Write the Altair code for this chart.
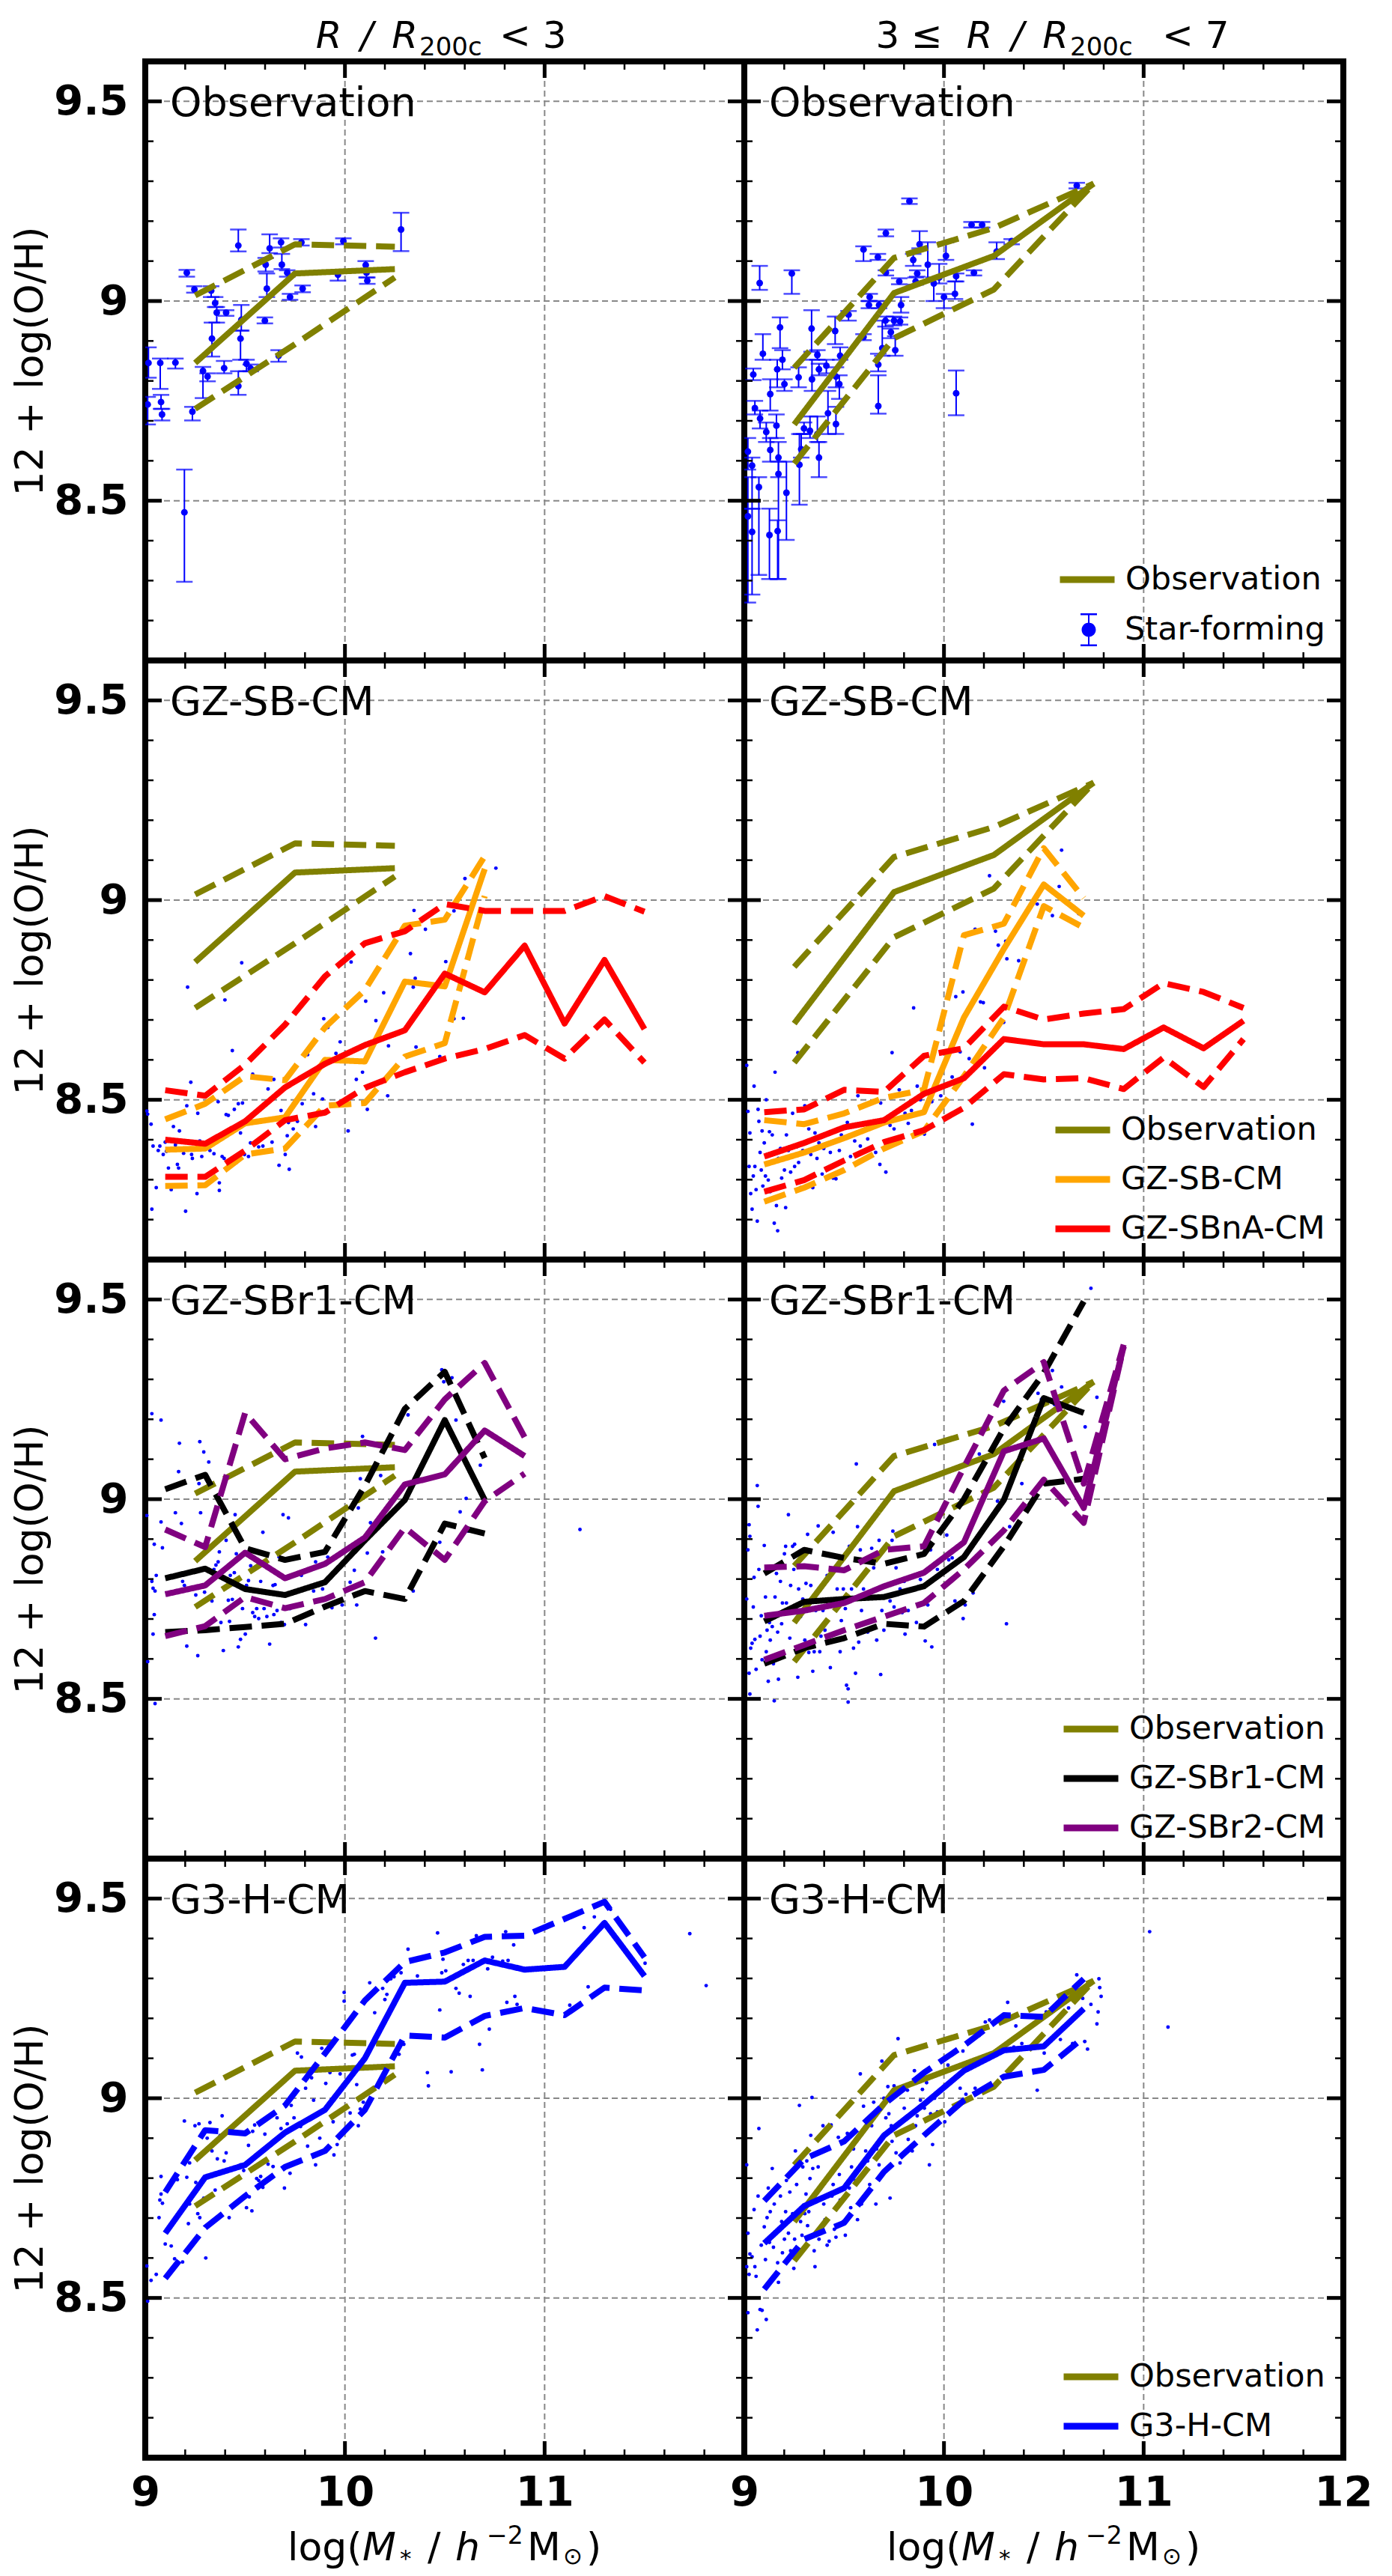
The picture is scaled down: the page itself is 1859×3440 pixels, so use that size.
import altair as alt
import pandas as pd

FONT = "DejaVu Sans"
PW, PH = 800, 800
X_DOMAIN = [9, 12]
Y_DOMAIN = [8.1, 9.6]

OLIVE, ORANGE, RED, BLACK, PURPLE, BLUE = "#808000", "#ffa500", "#ff0000", "#000000", "#800080", "#0000ff"
GRID = "#888888"

# ticks / labels
X_MAJOR = [10, 11]
X_MINOR = [9.2, 9.4, 9.6, 9.8, 10.2, 10.4, 10.6, 10.8, 11.2, 11.4, 11.6, 11.8]
Y_MAJOR = [8.5, 9.0, 9.5]
Y_MINOR = [8.2, 8.3, 8.4, 8.6, 8.7, 8.8, 8.9, 9.1, 9.2, 9.3, 9.4]
X_GRID = [10, 11]
Y_GRID = [8.5, 9.0, 9.5]
X_LABELS_LEFT = [9, 10, 11]
X_LABELS_RIGHT = [9, 10, 11, 12]
Y_LABELS = [8.5, 9, 9.5]

PANEL_LABELS = ["Observation", "GZ-SB-CM", "GZ-SBr1-CM", "G3-H-CM"]

BINS = [9.1, 9.3, 9.5, 9.7, 9.9, 10.1, 10.3, 10.5, 10.7, 10.9, 11.1, 11.3, 11.5]

# observation relation (median, upper, lower)
OBS_L_X = [9.25, 9.75, 10.25]
OBS_L_MED = [8.845, 9.069, 9.080]
OBS_L_UP = [9.014, 9.142, 9.136]
OBS_L_LO = [8.730, 8.892, 9.059]
OBS_R_X = [9.25, 9.75, 10.25, 10.75]
OBS_R_MED = [8.691, 9.020, 9.113, 9.294]
OBS_R_UP = [8.833, 9.108, 9.183, 9.294]
OBS_R_LO = [8.593, 8.907, 9.029, 9.294]

# star-forming observed galaxies (x, y, low, high)
SF_L = [
    (9.016, 8.845, 8.808, 8.884), (9.012, 8.741, 8.691, 8.760), (9.075, 8.845, 8.780, 8.856),
    (9.079, 8.747, 8.730, 8.765), (9.084, 8.716, 8.701, 8.730), (9.151, 8.846, 8.831, 8.856),
    (9.208, 9.071, 9.061, 9.078), (9.196, 8.471, 8.297, 8.578), (9.236, 8.723, 8.701, 8.735),
    (9.246, 9.029, 9.021, 9.037), (9.289, 8.825, 8.757, 8.835), (9.312, 8.811, 8.799, 8.819),
    (9.330, 9.026, 9.010, 9.037), (9.334, 8.906, 8.861, 8.946), (9.350, 8.995, 8.985, 9.010),
    (9.358, 8.971, 8.946, 8.985), (9.395, 8.832, 8.819, 8.850), (9.405, 8.971, 8.963, 8.977),
    (9.466, 9.139, 9.124, 9.179), (9.466, 8.787, 8.765, 8.824), (9.481, 8.953, 8.926, 8.990),
    (9.477, 8.906, 8.853, 8.926), (9.507, 8.843, 8.824, 8.853), (9.528, 8.831, 8.824, 8.841),
    (9.599, 8.951, 8.944, 8.959), (9.603, 9.091, 9.074, 9.108), (9.609, 9.031, 9.010, 9.069),
    (9.623, 9.132, 9.120, 9.167), (9.668, 8.863, 8.848, 8.877), (9.680, 9.147, 9.134, 9.157),
    (9.684, 9.091, 9.080, 9.118), (9.711, 9.071, 9.061, 9.077), (9.725, 9.010, 9.003, 9.018),
    (9.782, 9.147, 9.139, 9.155), (9.788, 9.031, 9.022, 9.039), (9.965, 9.066, 9.051, 9.074),
    (9.992, 9.150, 9.142, 9.157), (10.104, 9.090, 9.080, 9.100), (10.108, 9.071, 9.059, 9.080),
    (10.112, 9.051, 9.043, 9.059), (10.281, 9.179, 9.125, 9.221),
]
SF_R = [
    (9.077, 9.045, 9.028, 9.088), (9.238, 9.069, 9.018, 9.077), (9.093, 8.868, 8.853, 8.917),
    (9.179, 8.934, 8.882, 8.959), (9.191, 8.853, 8.829, 8.877), (9.165, 8.829, 8.784, 8.853),
    (9.045, 8.816, 8.802, 8.831), (9.130, 8.767, 8.726, 8.804), (9.201, 8.792, 8.775, 8.804),
    (9.053, 8.732, 8.716, 8.750), (9.018, 8.623, 8.578, 8.657), (9.079, 8.706, 8.681, 8.726),
    (9.110, 8.672, 8.647, 8.696), (9.161, 8.688, 8.657, 8.716), (9.130, 8.627, 8.598, 8.657),
    (9.171, 8.608, 8.559, 8.647), (9.039, 8.588, 8.480, 8.608), (9.073, 8.534, 8.314, 8.559),
    (9.018, 8.461, 8.245, 8.559), (9.039, 8.422, 8.265, 8.480), (9.126, 8.414, 8.304, 8.480),
    (9.167, 8.424, 8.304, 8.451), (9.171, 8.567, 8.304, 8.598), (9.211, 8.520, 8.402, 8.598),
    (9.272, 8.809, 8.784, 8.834), (9.276, 8.590, 8.490, 8.667), (9.285, 8.629, 8.608, 8.667),
    (9.299, 8.681, 8.667, 8.696), (9.329, 8.675, 8.657, 8.711), (9.337, 8.931, 8.873, 8.977),
    (9.339, 8.804, 8.775, 8.853), (9.366, 8.865, 8.853, 8.877), (9.374, 8.829, 8.814, 8.843),
    (9.366, 8.667, 8.647, 8.711), (9.374, 8.608, 8.559, 8.647), (9.411, 8.838, 8.819, 8.853),
    (9.419, 8.719, 8.667, 8.775), (9.455, 8.925, 8.892, 8.961), (9.459, 8.811, 8.784, 8.834),
    (9.459, 8.692, 8.667, 8.735), (9.476, 8.792, 8.755, 8.814), (9.480, 8.863, 8.853, 8.884),
    (9.522, 8.966, 8.951, 8.975), (9.597, 9.129, 9.100, 9.137), (9.597, 8.910, 8.902, 8.917),
    (9.628, 9.010, 9.000, 9.018), (9.624, 8.990, 8.982, 9.000), (9.669, 9.110, 9.103, 9.118),
    (9.675, 8.990, 8.982, 9.000), (9.671, 8.737, 8.718, 8.814), (9.671, 8.841, 8.824, 8.868),
    (9.691, 8.882, 8.863, 8.951), (9.707, 8.951, 8.936, 8.961), (9.709, 9.071, 9.064, 9.077),
    (9.709, 9.170, 9.162, 9.179), (9.734, 8.922, 8.907, 8.931), (9.750, 8.951, 8.939, 8.961),
    (9.756, 8.877, 8.863, 8.912), (9.776, 9.049, 9.042, 9.057), (9.785, 8.990, 8.971, 9.010),
    (9.780, 8.949, 8.941, 8.959), (9.827, 9.250, 9.243, 9.257), (9.846, 9.103, 9.088, 9.118),
    (9.858, 9.049, 9.041, 9.059), (9.866, 9.069, 9.061, 9.077), (9.878, 9.142, 9.132, 9.175),
    (9.919, 9.091, 9.049, 9.147), (9.949, 9.044, 9.000, 9.059), (9.976, 9.059, 9.044, 9.093),
    (10.000, 9.010, 8.982, 9.018), (10.010, 9.113, 9.103, 9.147), (10.055, 9.018, 9.005, 9.049),
    (10.061, 9.062, 9.049, 9.069), (10.061, 8.769, 8.714, 8.826), (10.138, 9.191, 9.184, 9.198),
    (10.191, 9.191, 9.184, 9.198), (10.150, 9.071, 9.064, 9.077), (10.264, 9.124, 9.105, 9.147),
    (10.339, 9.150, 9.142, 9.155), (10.665, 9.289, 9.282, 9.296),
]

# ---- GZ-SB-CM / GZ-SBnA-CM ----
SB_L_MED = [8.375, 8.378, 8.441, 8.456, 8.600, 8.596, 8.796, 8.784, 9.078]
SB_L_UP = [8.451, 8.490, 8.559, 8.549, 8.681, 8.775, 8.936, 8.951, 9.110]
SB_L_LO = [8.284, 8.286, 8.363, 8.378, 8.485, 8.492, 8.608, 8.642, 9.010]
SBNA_L_MED = [8.400, 8.390, 8.446, 8.531, 8.590, 8.637, 8.674, 8.816, 8.769, 8.886, 8.691, 8.850, 8.677]
SBNA_L_UP = [8.524, 8.510, 8.588, 8.688, 8.809, 8.892, 8.922, 8.990, 8.973, 8.973, 8.973, 9.010, 8.971]
SBNA_L_LO = [8.307, 8.307, 8.373, 8.449, 8.468, 8.530, 8.569, 8.603, 8.627, 8.662, 8.603, 8.701, 8.593]
SB_R_MED = [8.338, 8.368, 8.404, 8.443, 8.469, 8.706, 8.878, 9.039, 8.961]
SB_R_UP = [8.449, 8.439, 8.466, 8.505, 8.525, 8.912, 8.941, 9.130, 9.005]
SB_R_LO = [8.245, 8.280, 8.324, 8.378, 8.422, 8.559, 8.706, 8.985, 8.931]
SBNA_R_MED = [8.358, 8.392, 8.431, 8.449, 8.515, 8.554, 8.652, 8.639, 8.639, 8.627, 8.681, 8.629, 8.698]
SBNA_R_UP = [8.469, 8.476, 8.525, 8.520, 8.610, 8.629, 8.733, 8.701, 8.716, 8.727, 8.792, 8.770, 8.730]
SBNA_R_LO = [8.270, 8.299, 8.348, 8.394, 8.424, 8.480, 8.564, 8.551, 8.554, 8.527, 8.606, 8.532, 8.652]

# ---- GZ-SBr1-CM / GZ-SBr2-CM ----
R1_L_MED = [8.802, 8.826, 8.775, 8.760, 8.792, 8.897, 8.998, 9.198, 8.998]
R1_L_UP = [9.025, 9.061, 8.877, 8.848, 8.868, 9.034, 9.226, 9.319, 9.103]
R1_L_LO = [8.667, 8.672, 8.680, 8.688, 8.731, 8.770, 8.750, 8.939, 8.914]
R2_L_MED = [8.762, 8.784, 8.866, 8.802, 8.838, 8.904, 9.037, 9.062, 9.172, 9.108]
R2_L_UP = [8.924, 8.880, 9.216, 9.100, 9.127, 9.142, 9.123, 9.250, 9.341, 9.155]
R2_L_LO = [8.657, 8.682, 8.755, 8.727, 8.750, 8.792, 8.929, 8.848, 8.995, 9.064]
R1_R_MED = [8.694, 8.743, 8.750, 8.755, 8.782, 8.855, 8.998, 9.253, 9.216]
R1_R_UP = [8.814, 8.873, 8.853, 8.838, 8.863, 9.000, 9.177, 9.316, 9.495]
R1_R_LO = [8.588, 8.627, 8.652, 8.688, 8.681, 8.745, 8.882, 9.039, 9.051]
R2_R_MED = [8.708, 8.721, 8.740, 8.782, 8.816, 8.892, 9.120, 9.152, 8.978, 9.382]
R2_R_UP = [8.829, 8.832, 8.822, 8.873, 8.882, 9.080, 9.272, 9.343, 9.039, 9.387]
R2_R_LO = [8.598, 8.635, 8.672, 8.706, 8.740, 8.824, 8.922, 9.049, 8.941, 9.382]

# ---- G3-H-CM ----
G3_L_MED = [8.662, 8.802, 8.833, 8.914, 8.971, 9.100, 9.289, 9.292, 9.345, 9.322, 9.329, 9.439, 9.306]
G3_L_UP = [8.765, 8.920, 8.912, 8.982, 9.112, 9.245, 9.341, 9.365, 9.404, 9.407, 9.449, 9.492, 9.353]
G3_L_LO = [8.549, 8.676, 8.755, 8.828, 8.868, 8.971, 9.157, 9.152, 9.206, 9.226, 9.208, 9.277, 9.270]
G3_R_MED = [8.637, 8.730, 8.775, 8.907, 8.985, 9.069, 9.120, 9.130, 9.224]
G3_R_UP = [8.743, 8.848, 8.892, 8.985, 9.064, 9.132, 9.208, 9.204, 9.299]
G3_R_LO = [8.522, 8.647, 8.688, 8.816, 8.907, 8.995, 9.054, 9.071, 9.152]

# ---- simulated galaxies (x, y) ----
DOTS_SB_L = [
    (9.008, 8.472), (9.012, 8.464), (9.029, 8.439), (9.039, 8.384), (9.033, 8.226), (9.055, 8.280),
    (9.065, 8.373), (9.073, 8.384), (9.090, 8.363), (9.100, 8.394), (9.106, 8.371), (9.116, 8.329),
    (9.130, 8.275), (9.141, 8.433), (9.151, 8.387), (9.161, 8.338), (9.167, 8.329), (9.171, 8.422),
    (9.192, 8.366), (9.202, 8.221), (9.208, 8.485), (9.212, 8.782), (9.228, 8.544), (9.232, 8.363),
    (9.236, 8.353), (9.253, 8.394), (9.259, 8.265), (9.263, 8.466), (9.273, 8.397), (9.283, 8.358),
    (9.303, 8.387), (9.324, 8.373), (9.344, 8.365), (9.365, 8.495), (9.371, 8.292), (9.371, 8.273),
    (9.385, 8.358), (9.395, 8.353), (9.399, 8.750), (9.405, 8.463), (9.416, 8.461), (9.432, 8.353),
    (9.436, 8.623), (9.446, 8.476), (9.456, 8.343), (9.466, 8.490), (9.477, 8.417), (9.483, 8.843),
    (9.487, 8.492), (9.497, 8.363), (9.517, 8.358), (9.527, 8.392), (9.538, 8.564), (9.568, 8.382),
    (9.589, 8.384), (9.615, 8.527), (9.623, 8.451), (9.635, 8.394), (9.644, 8.551), (9.670, 8.336),
    (9.680, 8.473), (9.701, 8.363), (9.711, 8.410), (9.717, 8.443), (9.721, 8.326), (9.741, 8.427),
    (9.762, 8.446), (9.786, 8.490), (9.813, 8.613), (9.843, 8.515), (9.853, 8.433), (9.888, 8.502),
    (9.894, 8.703), (9.914, 8.681), (9.955, 8.616), (9.976, 8.645), (10.016, 8.422), (10.031, 8.845),
    (10.057, 8.551), (10.088, 8.569), (10.104, 8.747), (10.112, 8.476), (10.155, 8.698), (10.194, 8.768),
    (10.214, 8.510), (10.218, 8.635), (10.328, 8.866), (10.342, 8.782), (10.346, 8.974), (10.352, 8.804),
    (10.356, 8.632), (10.403, 8.927), (10.475, 8.608), (10.505, 8.846), (10.546, 8.973), (10.546, 8.703),
    (10.593, 8.704), (10.601, 9.054), (10.756, 9.080),
]
DOTS_SB_R = [
    (9.012, 8.586), (9.018, 8.471), (9.024, 8.333), (9.028, 8.417), (9.032, 8.265), (9.039, 8.226),
    (9.045, 8.309), (9.049, 8.534), (9.053, 8.333), (9.059, 8.275), (9.065, 8.196), (9.069, 8.476),
    (9.073, 8.446), (9.079, 8.368), (9.085, 8.324), (9.089, 8.422), (9.093, 8.284), (9.100, 8.392),
    (9.106, 8.309), (9.110, 8.500), (9.114, 8.363), (9.120, 8.299), (9.126, 8.420), (9.130, 8.270),
    (9.140, 8.412), (9.146, 8.343), (9.150, 8.191), (9.154, 8.569), (9.161, 8.235), (9.167, 8.172),
    (9.171, 8.353), (9.181, 8.378), (9.187, 8.304), (9.195, 8.443), (9.201, 8.324), (9.207, 8.230),
    (9.211, 8.412), (9.221, 8.373), (9.232, 8.319), (9.242, 8.466), (9.252, 8.333), (9.262, 8.382),
    (9.268, 8.618), (9.272, 8.343), (9.282, 8.280), (9.293, 8.373), (9.303, 8.485), (9.313, 8.392),
    (9.323, 8.427), (9.333, 8.363), (9.343, 8.280), (9.354, 8.417), (9.364, 8.353), (9.374, 8.392),
    (9.390, 8.314), (9.398, 8.378), (9.415, 8.412), (9.431, 8.368), (9.445, 8.304), (9.459, 8.302),
    (9.476, 8.373), (9.486, 8.412), (9.516, 8.443), (9.532, 8.358), (9.553, 8.397), (9.569, 8.510),
    (9.581, 8.384), (9.597, 8.441), (9.618, 8.402), (9.638, 8.441), (9.658, 8.368), (9.679, 8.338),
    (9.683, 8.492), (9.709, 8.319), (9.730, 8.436), (9.740, 8.618), (9.750, 8.427), (9.776, 8.525),
    (9.805, 8.466), (9.821, 8.441), (9.837, 8.473), (9.848, 8.730), (9.866, 8.534), (9.882, 8.500),
    (9.902, 8.414), (9.913, 8.485), (9.939, 8.495), (9.984, 8.510), (10.041, 8.557), (10.059, 8.758),
    (10.081, 8.620), (10.095, 8.770), (10.126, 8.603), (10.142, 8.439), (10.156, 8.927), (10.171, 8.765),
    (10.183, 8.745), (10.197, 8.743), (10.203, 8.580), (10.228, 9.061), (10.258, 8.922), (10.272, 8.887),
    (10.299, 8.694), (10.309, 8.897), (10.315, 8.853), (10.374, 8.848), (10.467, 8.990), (10.543, 8.961),
    (10.577, 9.034), (10.589, 9.125), (10.675, 8.966),
]
DOTS_R_L = [
    (9.008, 8.959), (9.012, 8.593), (9.033, 9.214), (9.045, 8.887), (9.049, 8.488), (9.055, 8.809),
    (9.033, 8.794), (9.039, 8.777), (9.049, 8.770), (9.045, 8.711), (9.039, 8.662), (9.079, 9.198),
    (9.079, 8.943), (9.086, 8.878), (9.151, 8.966), (9.167, 9.069), (9.171, 9.140), (9.181, 8.939),
    (9.187, 8.794), (9.196, 8.784), (9.208, 8.632), (9.253, 8.760), (9.263, 8.608), (9.269, 9.039),
    (9.273, 9.144), (9.277, 8.966), (9.293, 9.118), (9.297, 8.767), (9.318, 9.093), (9.334, 8.745),
    (9.344, 8.824), (9.354, 8.835), (9.365, 8.843), (9.371, 8.868), (9.379, 8.691), (9.391, 8.621),
    (9.399, 8.907), (9.405, 8.897), (9.416, 8.747), (9.422, 8.694), (9.426, 8.809), (9.436, 8.749),
    (9.446, 8.816), (9.450, 8.961), (9.456, 8.863), (9.466, 8.630), (9.477, 8.649), (9.487, 8.726),
    (9.501, 8.662), (9.507, 8.784), (9.517, 8.796), (9.528, 8.833), (9.538, 8.716), (9.548, 8.706),
    (9.558, 8.726), (9.568, 8.701), (9.578, 8.794), (9.589, 8.917), (9.595, 8.726), (9.609, 8.706),
    (9.623, 8.637), (9.640, 8.784), (9.644, 8.711), (9.650, 8.786), (9.660, 8.721), (9.670, 8.855),
    (9.680, 8.691), (9.690, 8.961), (9.697, 8.686), (9.717, 8.953), (9.725, 8.726), (9.782, 8.809),
    (9.803, 8.686), (9.803, 8.907), (9.843, 8.770), (9.853, 8.843), (9.888, 8.775), (9.914, 8.855),
    (9.935, 8.728), (9.986, 8.735), (10.026, 8.792), (10.047, 8.822), (10.059, 8.735), (10.067, 8.978),
    (10.077, 9.051), (10.088, 9.157), (10.112, 8.865), (10.128, 8.941), (10.153, 8.652), (10.179, 9.059),
    (10.189, 8.868), (10.316, 9.211), (10.342, 8.770), (10.475, 8.892), (10.485, 9.324), (10.495, 9.294),
    (10.536, 9.304), (10.556, 9.198), (10.577, 8.968), (10.607, 9.002), (10.617, 8.920), (10.678, 9.085),
    (11.177, 8.924),
]
DOTS_R_R = [
    (9.012, 8.750), (9.018, 8.873), (9.024, 8.936), (9.028, 8.907), (9.032, 8.627), (9.024, 8.564),
    (9.028, 8.512), (9.039, 8.639), (9.045, 8.730), (9.049, 8.804), (9.053, 8.649), (9.059, 8.574),
    (9.065, 9.034), (9.069, 8.982), (9.073, 8.824), (9.079, 8.657), (9.085, 8.708), (9.089, 8.598),
    (9.100, 8.884), (9.106, 8.755), (9.110, 8.618), (9.114, 8.672), (9.120, 8.544), (9.126, 8.691),
    (9.130, 8.647), (9.140, 8.681), (9.146, 8.588), (9.150, 8.495), (9.154, 8.755), (9.161, 8.814),
    (9.167, 8.667), (9.171, 8.549), (9.181, 8.794), (9.187, 8.688), (9.191, 8.740), (9.201, 8.863),
    (9.207, 8.882), (9.211, 8.740), (9.221, 8.961), (9.228, 8.652), (9.232, 8.784), (9.242, 8.882),
    (9.248, 8.824), (9.252, 8.887), (9.262, 8.721), (9.268, 8.554), (9.272, 8.775), (9.282, 8.706),
    (9.293, 8.750), (9.303, 8.647), (9.309, 8.789), (9.317, 8.912), (9.323, 8.616), (9.333, 8.784),
    (9.343, 8.569), (9.350, 8.618), (9.358, 8.721), (9.370, 8.933), (9.378, 8.618), (9.384, 8.657),
    (9.394, 8.721), (9.404, 8.672), (9.415, 8.809), (9.431, 8.578), (9.435, 8.735), (9.445, 8.917),
    (9.455, 8.824), (9.465, 8.775), (9.476, 8.647), (9.480, 8.618), (9.486, 8.696), (9.496, 8.775),
    (9.506, 8.726), (9.512, 8.534), (9.520, 8.525), (9.520, 8.492), (9.526, 8.882), (9.537, 8.775),
    (9.547, 8.627), (9.557, 8.564), (9.561, 9.088), (9.567, 8.931), (9.573, 8.642), (9.581, 8.873),
    (9.587, 8.721), (9.597, 8.775), (9.618, 8.667), (9.638, 8.877), (9.648, 8.828), (9.663, 8.647),
    (9.675, 8.897), (9.683, 8.561), (9.689, 8.721), (9.699, 8.672), (9.719, 8.755), (9.730, 8.745),
    (9.740, 8.897), (9.744, 8.920), (9.750, 8.730), (9.760, 8.828), (9.780, 8.775), (9.791, 8.716),
    (9.801, 8.794), (9.805, 8.662), (9.821, 8.721), (9.841, 8.775), (9.862, 8.691), (9.882, 8.799),
    (9.906, 8.645), (9.919, 8.735), (9.933, 8.873), (9.939, 8.630), (9.953, 9.137), (9.967, 8.824),
    (9.994, 8.931), (10.014, 8.910), (10.024, 8.848), (10.041, 8.853), (10.055, 8.745), (10.096, 8.701),
    (10.106, 8.735), (10.146, 8.765), (10.163, 8.858), (10.177, 9.113), (10.268, 8.995), (10.299, 9.245),
    (10.313, 8.688), (10.329, 8.931), (10.390, 9.039), (10.471, 9.265), (10.488, 9.250), (10.543, 9.322),
    (10.553, 9.237), (10.589, 9.281), (10.707, 9.181), (10.766, 9.255), (10.736, 9.528),
]
DOTS_G3_L = [
    (9.008, 8.580), (9.012, 8.492), (9.029, 8.544), (9.055, 8.559), (9.069, 8.701), (9.073, 8.745),
    (9.079, 8.760), (9.086, 8.737), (9.079, 8.804), (9.100, 8.635), (9.130, 8.630), (9.147, 8.598),
    (9.161, 8.796), (9.187, 8.590), (9.196, 8.943), (9.208, 8.802), (9.216, 8.686), (9.222, 8.735),
    (9.222, 8.838), (9.249, 8.931), (9.253, 8.789), (9.263, 8.711), (9.273, 8.701), (9.269, 8.936),
    (9.293, 8.750), (9.303, 8.600), (9.310, 8.900), (9.324, 8.939), (9.334, 8.868), (9.350, 8.770),
    (9.361, 8.848), (9.375, 8.907), (9.385, 8.956), (9.395, 8.843), (9.405, 8.863), (9.420, 8.701),
    (9.436, 8.792), (9.456, 8.826), (9.477, 8.833), (9.493, 8.819), (9.507, 8.726), (9.517, 8.882),
    (9.521, 8.753), (9.534, 8.718), (9.538, 8.917), (9.548, 8.933), (9.558, 8.799), (9.568, 8.794),
    (9.578, 8.804), (9.589, 8.777), (9.599, 8.910), (9.615, 8.835), (9.629, 8.882), (9.640, 8.829),
    (9.660, 8.951), (9.680, 8.924), (9.697, 8.775), (9.711, 8.936), (9.725, 8.812), (9.731, 8.982),
    (9.745, 8.951), (9.762, 9.113), (9.778, 8.929), (9.782, 9.103), (9.803, 9.025), (9.813, 8.880),
    (9.823, 8.917), (9.833, 9.051), (9.843, 8.995), (9.853, 8.833), (9.874, 8.900), (9.884, 9.125),
    (9.904, 9.037), (9.925, 9.064), (9.941, 8.941), (9.945, 8.858), (9.961, 8.884), (9.976, 9.061),
    (9.996, 9.265), (9.996, 9.243), (10.010, 9.191), (10.026, 8.963), (10.037, 9.108), (10.047, 9.110),
    (10.059, 9.034), (10.067, 8.931), (10.077, 8.973), (10.092, 8.990), (10.124, 9.289), (10.149, 9.214),
    (10.159, 9.080), (10.189, 9.275), (10.200, 9.247), (10.210, 9.260), (10.230, 9.299), (10.246, 9.304),
    (10.271, 9.110), (10.281, 9.314), (10.295, 9.135), (10.316, 9.373), (10.363, 9.306), (10.413, 9.064),
    (10.418, 9.031), (10.464, 9.414), (10.475, 9.221), (10.485, 9.314), (10.491, 9.348), (10.505, 9.319),
    (10.532, 9.066), (10.556, 9.275), (10.572, 9.263), (10.593, 9.335), (10.617, 9.345), (10.627, 9.255),
    (10.642, 9.345), (10.658, 9.407), (10.674, 9.135), (10.688, 9.071), (10.715, 9.324), (10.723, 9.173),
    (10.739, 9.353), (10.790, 9.343), (10.805, 9.417), (10.811, 9.240), (10.817, 9.345), (10.845, 9.384),
    (10.851, 9.255), (10.862, 9.235), (11.126, 9.233), (11.198, 9.427), (11.249, 9.454), (11.218, 9.279),
    (11.330, 9.473), (11.503, 9.338), (11.727, 9.412), (11.809, 9.282),
]
DOTS_G3_R = [
    (9.012, 8.833), (9.018, 8.662), (9.012, 8.578), (9.018, 8.463), (9.024, 8.559), (9.028, 8.610),
    (9.039, 8.603), (9.049, 8.721), (9.053, 8.578), (9.059, 8.554), (9.065, 8.420), (9.069, 8.755),
    (9.073, 8.924), (9.079, 8.471), (9.085, 8.632), (9.089, 8.469), (9.100, 8.678), (9.106, 8.596),
    (9.110, 8.446), (9.114, 8.701), (9.120, 8.775), (9.126, 8.639), (9.130, 8.716), (9.140, 8.824),
    (9.146, 8.627), (9.150, 8.735), (9.161, 8.667), (9.167, 8.588), (9.171, 8.539), (9.181, 8.755),
    (9.187, 8.691), (9.191, 8.613), (9.201, 8.647), (9.207, 8.716), (9.211, 8.794), (9.221, 8.662),
    (9.228, 8.765), (9.232, 8.618), (9.242, 8.711), (9.248, 8.574), (9.252, 8.647), (9.256, 8.868),
    (9.262, 8.784), (9.268, 8.716), (9.276, 8.982), (9.282, 8.691), (9.289, 8.657), (9.293, 8.828),
    (9.303, 8.711), (9.309, 8.760), (9.313, 8.843), (9.317, 8.681), (9.323, 8.716), (9.329, 8.799),
    (9.333, 8.907), (9.339, 9.002), (9.343, 8.824), (9.350, 8.618), (9.354, 8.578), (9.358, 8.740),
    (9.370, 8.828), (9.374, 8.647), (9.384, 8.775), (9.394, 8.931), (9.398, 8.735), (9.404, 8.696),
    (9.415, 8.632), (9.425, 8.642), (9.435, 8.933), (9.439, 8.755), (9.445, 8.784), (9.451, 8.672),
    (9.459, 8.652), (9.471, 8.902), (9.476, 8.809), (9.480, 8.745), (9.486, 8.961), (9.496, 8.691),
    (9.506, 8.657), (9.516, 8.912), (9.526, 8.775), (9.533, 8.726), (9.537, 8.828), (9.547, 8.873),
    (9.557, 8.794), (9.567, 8.696), (9.573, 8.824), (9.581, 9.061), (9.587, 8.735), (9.597, 8.980),
    (9.608, 8.868), (9.618, 8.843), (9.628, 8.784), (9.638, 8.931), (9.648, 8.990), (9.659, 8.735),
    (9.663, 8.873), (9.675, 8.833), (9.689, 9.093), (9.699, 9.000), (9.709, 8.951), (9.719, 9.029),
    (9.724, 8.961), (9.730, 8.750), (9.736, 8.931), (9.740, 8.892), (9.750, 9.031), (9.760, 8.863),
    (9.770, 9.149), (9.780, 8.838), (9.801, 8.975), (9.817, 9.020), (9.821, 8.897), (9.831, 8.877),
    (9.841, 8.868), (9.852, 9.069), (9.858, 8.931), (9.866, 8.956), (9.882, 8.995), (9.892, 9.022),
    (9.902, 8.975), (9.913, 9.039), (9.927, 8.833), (9.933, 8.961), (9.943, 8.884), (9.953, 9.000),
    (9.967, 8.966), (9.984, 9.142), (9.994, 9.093), (10.004, 8.941), (10.020, 9.083), (10.034, 9.108),
    (10.065, 8.985), (10.081, 9.025), (10.095, 9.118), (10.110, 9.010), (10.138, 9.147), (10.156, 9.025),
    (10.177, 9.157), (10.207, 9.191), (10.228, 9.196), (10.285, 9.191), (10.319, 9.240), (10.350, 9.128),
    (10.360, 9.181), (10.390, 9.137), (10.467, 9.020), (10.502, 9.113), (10.512, 9.216), (10.553, 9.186),
    (10.583, 9.147), (10.624, 9.226), (10.644, 9.137), (10.665, 9.309), (10.685, 9.294), (10.695, 9.250),
    (10.705, 9.142), (10.719, 9.123), (10.736, 9.235), (10.772, 9.216), (10.766, 9.186), (10.776, 9.299),
    (10.787, 9.255), (10.780, 9.277), (11.030, 9.417), (11.122, 9.178),
]

# legend glyph for the star-forming sample: filled caps, bar and dot (unit square)
ERR_PATH = ("M-0.5,-1H0.5V-0.89H-0.5Z"
            "M-0.5,0.89H0.5V1H-0.5Z"
            "M-0.045,-1H0.045V1H-0.045Z"
            "M0.43,0A0.43,0.43,0,1,1,-0.43,0A0.43,0.43,0,1,1,0.43,0Z")

SX = alt.Scale(domain=X_DOMAIN, nice=False, zero=False)
SY = alt.Scale(domain=Y_DOMAIN, nice=False, zero=False)


def line_df(name, xs, med, up, lo):
    rows = []
    for stat, ys in (("median", med), ("upper", up), ("lower", lo)):
        for x, y in zip(xs, ys):
            rows.append({"x": x, "y": y, "series": name, "stat": stat})
    return pd.DataFrame(rows)


def text_layer(txt, x, y, size, style="normal", weight="normal", align="left"):
    return alt.Chart(pd.DataFrame({"t": [txt]})).mark_text(
        align=align, baseline="alphabetic", fontSize=size, fontStyle=style,
        fontWeight=weight, font=FONT, color="black"
    ).encode(text="t:N", x=alt.value(x), y=alt.value(y))


def line_legend(lx, ly):
    return alt.Legend(title=None, orient="none", legendX=lx, legendY=ly,
                      symbolType="stroke", symbolSize=5329, symbolStrokeWidth=9,
                      clipHeight=50, rowPadding=16, labelFontSize=43, labelFont=FONT,
                      labelOffset=10, labelColor="black", labelLimit=1000, padding=0,
                      symbolOffset=0)


def panel(row, col):
    ax = None
    ay = None
    if row == 3:
        ax = alt.Axis(values=X_LABELS_RIGHT if col == 1 else X_LABELS_LEFT, format="d",
                      title=None, grid=False, ticks=False, tickSize=0, domain=False,
                      labelFontSize=56, labelFontWeight="bold", labelFont=FONT,
                      labelColor="black", labelPadding=19, labelFlush=False,
                      labelOverlap=False)
    if col == 0:
        ay = alt.Axis(values=Y_LABELS, format="~g", title="12 + log(O/H)",
                      titleFontSize=52, titleFontWeight="normal", titleFont=FONT,
                      titleColor="black", titlePadding=4, grid=False, ticks=False,
                      tickSize=0, domain=False, labelFontSize=56, labelFontWeight="bold",
                      labelFont=FONT, labelColor="black", labelPadding=23,
                      labelFlush=False, labelOverlap=False)

    def X(f):
        return alt.X(f"{f}:Q", scale=SX, axis=ax)

    def Y(f):
        return alt.Y(f"{f}:Q", scale=SY, axis=ay)

    layers = []
    gx = alt.Chart(pd.DataFrame({"v": X_GRID}))
    gy = alt.Chart(pd.DataFrame({"v": Y_GRID}))
    layers.append(gx.mark_rule(color=GRID, strokeWidth=2, strokeDash=[8, 5]).encode(x=X("v")))
    layers.append(gy.mark_rule(color=GRID, strokeWidth=2, strokeDash=[8, 5]).encode(y=Y("v")))

    obs = (OBS_L_X, OBS_L_MED, OBS_L_UP, OBS_L_LO) if col == 0 else (OBS_R_X, OBS_R_MED, OBS_R_UP, OBS_R_LO)
    bins = BINS
    if row == 0:
        series = [("Observation", OLIVE) + obs]
        dots = None
    elif row == 1:
        if col == 0:
            series = [("Observation", OLIVE) + obs,
                      ("GZ-SB-CM", ORANGE, bins[:9], SB_L_MED, SB_L_UP, SB_L_LO),
                      ("GZ-SBnA-CM", RED, bins, SBNA_L_MED, SBNA_L_UP, SBNA_L_LO)]
            dots = DOTS_SB_L
        else:
            series = [("Observation", OLIVE) + obs,
                      ("GZ-SB-CM", ORANGE, bins[:9], SB_R_MED, SB_R_UP, SB_R_LO),
                      ("GZ-SBnA-CM", RED, bins, SBNA_R_MED, SBNA_R_UP, SBNA_R_LO)]
            dots = DOTS_SB_R
    elif row == 2:
        if col == 0:
            series = [("Observation", OLIVE) + obs,
                      ("GZ-SBr1-CM", BLACK, bins[:9], R1_L_MED, R1_L_UP, R1_L_LO),
                      ("GZ-SBr2-CM", PURPLE, bins[:10], R2_L_MED, R2_L_UP, R2_L_LO)]
            dots = DOTS_R_L
        else:
            series = [("Observation", OLIVE) + obs,
                      ("GZ-SBr1-CM", BLACK, bins[:9], R1_R_MED, R1_R_UP, R1_R_LO),
                      ("GZ-SBr2-CM", PURPLE, bins[:10], R2_R_MED, R2_R_UP, R2_R_LO)]
            dots = DOTS_R_R
    else:
        if col == 0:
            series = [("Observation", OLIVE) + obs,
                      ("G3-H-CM", BLUE, bins, G3_L_MED, G3_L_UP, G3_L_LO)]
            dots = DOTS_G3_L
        else:
            series = [("Observation", OLIVE) + obs,
                      ("G3-H-CM", BLUE, bins[:9], G3_R_MED, G3_R_UP, G3_R_LO)]
            dots = DOTS_G3_R

    if dots:
        ddf = pd.DataFrame(dots, columns=["x", "y"])
        layers.append(alt.Chart(ddf).mark_circle(size=24, color=BLUE, opacity=1, clip=True)
                      .encode(x=X("x"), y=Y("y")))

    if row == 0:
        edf = pd.DataFrame(SF_L if col == 0 else SF_R, columns=["x", "y", "lo", "hi"])
        eb = alt.Chart(edf)
        layers.append(eb.mark_rule(color=BLUE, strokeWidth=2, clip=True)
                      .encode(x=X("x"), y=Y("lo"), y2=alt.Y2("hi:Q")))
        layers.append(eb.mark_tick(color=BLUE, orient="horizontal", size=22, thickness=2.5, clip=True)
                      .encode(x=X("x"), y=Y("lo")))
        layers.append(eb.mark_tick(color=BLUE, orient="horizontal", size=22, thickness=2.5, clip=True)
                      .encode(x=X("x"), y=Y("hi")))
        layers.append(eb.mark_circle(color=BLUE, size=80, opacity=1, clip=True)
                      .encode(x=X("x"), y=Y("y")))

    legend = None
    if col == 1:
        legend = line_legend(*[(417, 667), (411, 602), (422, 602), (422, 667)][row])
    names = [s[0] for s in series]
    cols = [s[1] for s in series]
    color = alt.Color("series:N", scale=alt.Scale(domain=names, range=cols), legend=legend)
    dash = alt.StrokeDash("stat:N", scale=alt.Scale(domain=["median", "upper", "lower"],
                                                     range=[[1, 0], [30, 13], [30, 13]]), legend=None)
    for name, c, xs, med, up, lo in series:
        layers.append(alt.Chart(line_df(name, xs, med, up, lo))
                      .mark_line(strokeWidth=8, clip=True, strokeJoin="round")
                      .encode(x=X("x"), y=Y("y"), color=color, strokeDash=dash))

    if row == 0 and col == 1:
        sdf = pd.DataFrame({"x": [9.5], "y": [8.0], "kind": ["Star-forming"]})
        layers.append(alt.Chart(sdf).mark_point(filled=True, fill=BLUE, size=1936, opacity=1, clip=True)
                      .encode(x=X("x"), y=Y("y"),
                              shape=alt.Shape("kind:N",
                                              scale=alt.Scale(domain=["Star-forming"], range=[ERR_PATH]),
                                              legend=alt.Legend(title=None, orient="none", legendX=437,
                                                                legendY=734, symbolSize=1936,
                                                                symbolFillColor=BLUE,
                                                                clipHeight=50, labelFontSize=43,
                                                                labelFont=FONT, labelColor="black",
                                                                labelOffset=25, labelLimit=1000,
                                                                padding=0, symbolOffset=0))))

    # inward ticks on all four sides
    for vals, L, w in ((X_MAJOR, 22, 5), (X_MINOR, 11, 2.5)):
        d = alt.Chart(pd.DataFrame({"v": vals}))
        layers.append(d.mark_rule(color="black", strokeWidth=w)
                      .encode(x=X("v"), y=alt.value(PH), y2=alt.value(PH - L)))
        layers.append(d.mark_rule(color="black", strokeWidth=w)
                      .encode(x=X("v"), y=alt.value(0), y2=alt.value(L)))
    for vals, L, w in ((Y_MAJOR, 22, 5), (Y_MINOR, 11, 2.5)):
        d = alt.Chart(pd.DataFrame({"v": vals}))
        layers.append(d.mark_rule(color="black", strokeWidth=w)
                      .encode(y=Y("v"), x=alt.value(0), x2=alt.value(L)))
        layers.append(d.mark_rule(color="black", strokeWidth=w)
                      .encode(y=Y("v"), x=alt.value(PW), x2=alt.value(PW - L)))

    layers.append(text_layer(PANEL_LABELS[row], 33, 73, 54))

    if row == 0:
        if col == 0:
            layers.append(text_layer("R\u2002/\u2002R", 364, -18, 50, style="italic", align="right"))
            layers.append(text_layer("200c", 366, -8, 34))
            layers.append(text_layer("< 3", 473, -18, 50))
        else:
            layers.append(text_layer("3 \u2264", 265, -18, 50, align="right"))
            layers.append(text_layer("R\u2002/\u2002R", 433, -18, 50, style="italic", align="right"))
            layers.append(text_layer("200c", 435, -8, 34))
            layers.append(text_layer("< 7", 558, -18, 50))
    if row == 3:
        layers.append(text_layer("log(", 190, 937, 52))
        layers.append(text_layer("M", 290, 937, 52, style="italic"))
        layers.append(text_layer("*", 340, 945, 31))
        layers.append(text_layer("/", 377, 937, 52))
        layers.append(text_layer("h", 414, 937, 52, style="italic"))
        layers.append(text_layer("\u22122", 456, 915, 33))
        layers.append(text_layer("M", 510, 937, 52))
        layers.append(text_layer("\u2299", 558, 942, 31))
        layers.append(text_layer(")", 589, 937, 52))

    return alt.layer(*layers).properties(width=PW, height=PH)


RES = dict(color="independent", strokeDash="independent", shape="independent")
panels = [panel(r, c) for r in range(4) for c in range(2)]
chart = alt.concat(*panels, columns=2, spacing=0, bounds="flush").resolve_scale(**RES)
chart = chart.properties(padding={"left": 2, "top": 12, "right": 5, "bottom": 0},
                         background="white")
chart = chart.configure(font=FONT).configure_view(stroke="black", strokeWidth=8)

chart.save("out.html", embed_options={"renderer": "svg", "actions": False})
